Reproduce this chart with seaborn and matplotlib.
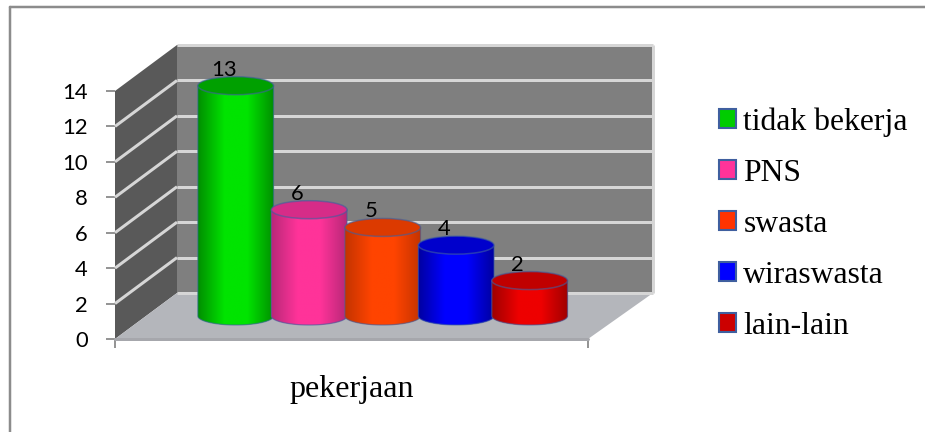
import numpy as np
import pandas as pd
import matplotlib
matplotlib.use("Agg")
import matplotlib.pyplot as plt
import seaborn as sns
from matplotlib.colors import LinearSegmentedColormap, to_rgba
from matplotlib.lines import Line2D
from matplotlib.patches import Ellipse, Polygon, Patch

# Respondents by occupation
categories = ["tidak bekerja", "PNS", "swasta", "wiraswasta", "lain-lain"]
values = [13, 6, 5, 4, 2]
y_ticks = [0, 2, 4, 6, 8, 10, 12, 14]
axis_title = "pekerjaan"

swatch_colors = ["#00CC00", "#FF3399", "#FF3300", "#0000FF", "#CC0000"]
body_light = ["#00E400", "#FF3399", "#FF4400", "#0000FF", "#EE0000"]
body_dark = ["#009000", "#B82878", "#C43400", "#0000A0", "#A00000"]
cap_colors = ["#00A000", "#D62C88", "#DC3A00", "#0000CC", "#C00000"]
edge_color = "#3F5F9F"

W, H = 925, 432
DPI = 100
PX_PT = 72 / DPI

SERIF = "Liberation Serif"
SANS = "Lato"

sns.set_theme(style="white")
fig = plt.figure(figsize=(W / DPI, H / DPI), dpi=DPI, facecolor="white")


def px_axes(left, top, right, bottom):
    return fig.add_axes([left / W, 1 - bottom / H, (right - left) / W, (bottom - top) / H])


# Front plane of the 3D box carries the value axis and the axis title
ax = px_axes(115, 91, 588, 339)
ax.set_xlim(0, 1)
ax.set_ylim(0, 14)
ax.patch.set_visible(False)
sns.despine(ax=ax, left=True, bottom=True, top=True, right=True)

# One unit of depth moves a point back along the box diagonal
px_per_value = 248 / 14
depth_x = 62 / 473
depth_y = 46 / px_per_value


def project(x, value, depth):
    return x + depth * depth_x, value + depth * depth_y


def face(points, color, z):
    ax.add_patch(Polygon([project(*p) for p in points], closed=True, facecolor=color,
                         edgecolor="none", clip_on=False, zorder=z))


back_right = 1 + 3 / 473
face([(0, 0, 1), (back_right, 0, 1), (back_right, 14, 1), (0, 14, 1)], "#7F7F7F", 1)
face([(0, 0, 0), (0, 0, 1), (0, 14, 1), (0, 14, 0)], "#595959", 1)
face([(0, 0, 0), (1, 0, 0), (back_right, 0, 1), (0, 0, 1)], "#B4B6BB", 1)

grid_kw = dict(color="#D6D6D6", lw=3 * PX_PT, clip_on=False, zorder=2, solid_capstyle="butt")
for tick in y_ticks:
    x0, y0 = project(0, tick, 0)
    x1, y1 = project(0, tick, 1)
    x2, y2 = project(back_right, tick, 1)
    if 0 < tick < 14:
        ax.plot([x0, x1], [y0, y1], **grid_kw)
    ax.plot([x1, x2], [y1, y2], **grid_kw)
x1, y1 = project(back_right, 0, 1)
x2, y2 = project(back_right, 14, 1)
ax.plot([x1, x2], [y1, y2], **grid_kw)
ax.plot([0, 1], [0, 0], color="#A6A7AC", lw=3 * PX_PT, clip_on=False, zorder=2)

ax.set_yticks(y_ticks)
ax.set_xticks([0, 1])
ax.set_xticklabels(["", ""])
ax.tick_params(axis="y", left=True, length=9 * PX_PT, width=1.2, color="#808080",
               pad=18 * PX_PT, labelsize=22 * PX_PT, labelcolor="black")
ax.tick_params(axis="x", bottom=True, length=9 * PX_PT, width=1.2, color="#808080", pad=0)
for label in ax.get_yticklabels():
    label.set_fontfamily(SANS)
ax.set_xlabel(axis_title, fontfamily=SERIF, fontsize=32 * PX_PT, color="black", labelpad=27 * PX_PT)

# Cylinders stand halfway into the box
ax_bars = px_axes(115 + 31, 91 - 23, 588 + 31, 339 - 23)
ax_bars.patch.set_visible(False)
frame = pd.DataFrame({"pekerjaan": categories, "jumlah": values})
sns.barplot(data=frame, x="pekerjaan", y="jumlah", hue="pekerjaan", order=categories,
            hue_order=categories, palette=swatch_colors, width=1.03, dodge=False,
            legend=False, ax=ax_bars, saturation=1)
ax_bars.set_xlim(-1.22, -1.22 + 473 / 73.5)
ax_bars.set_ylim(0, 14)
ax_bars.axis("off")

cap_h = 18 / px_per_value
outline_rgba = to_rgba(edge_color, 0.6)
theta = np.linspace(np.pi, 2 * np.pi, 60)
for i, bar in enumerate(ax_bars.patches):
    if bar.get_height() == 0:
        continue
    v = bar.get_height()
    c = bar.get_x() + bar.get_width() / 2
    w = bar.get_width()
    z = 3 + i
    bar.set_visible(False)
    outline = [(c - w / 2, v)] + [(c + w / 2 * np.cos(t), cap_h / 2 * np.sin(t)) for t in theta] + [(c + w / 2, v)]
    body = Polygon(outline, closed=True, facecolor=body_light[i], edgecolor="none",
                   clip_on=False, zorder=z)
    ax_bars.add_patch(body)
    shade = LinearSegmentedColormap.from_list(
        "shade", [body_dark[i], body_light[i], body_light[i], body_dark[i]])
    ramp = np.interp(np.linspace(0, 1, 200), [0, 0.42, 0.58, 1], [0, 0.4, 0.6, 1]).reshape(1, -1)
    img = ax_bars.imshow(ramp, cmap=shade, aspect="auto", vmin=0, vmax=1, zorder=z + 0.1,
                         extent=(c - w / 2, c + w / 2, -cap_h, v + cap_h), interpolation="bilinear")
    img.set_clip_box(fig.bbox)
    img.set_clip_path(body)
    ax_bars.add_patch(Polygon(outline, closed=True, facecolor="none", edgecolor=outline_rgba,
                              lw=0.9, clip_on=False, zorder=z + 0.15))
    ax_bars.add_patch(Ellipse((c, v), w, cap_h, facecolor=cap_colors[i], edgecolor=outline_rgba,
                              lw=1.1, clip_on=False, zorder=z + 0.2))
    ax_bars.annotate(str(values[i]), xy=(c, v), xytext=(-12, 16), textcoords="offset pixels",
                     ha="center", va="center", fontsize=22 * PX_PT, fontfamily=SANS,
                     color="black", zorder=20, annotation_clip=False)
ax_bars.set_xlim(-1.22, -1.22 + 473 / 73.5)
ax_bars.set_ylim(0, 14)

# Legend on the right of the box
handles = [Patch(facecolor=col, edgecolor=edge_color, lw=1.5, label=cat)
           for col, cat in zip(swatch_colors, categories)]
ax_bars.legend(handles=handles, loc="center left", bbox_to_anchor=(719 / W, 1 - 224 / H),
               bbox_transform=fig.transFigure, frameon=False,
               prop={"family": SERIF, "size": 31.6 * PX_PT}, labelspacing=0.7, borderpad=0,
               borderaxespad=0, handlelength=0.55, handleheight=0.55, handletextpad=0.22,
               labelcolor="black")

# Outer chart border, open to the right and below
border = dict(color="#8C8C8C", lw=2.5 * PX_PT, transform=fig.transFigure)
fig.add_artist(Line2D([10 / W, 10 / W], [0, 1 - 7 / H], **border))
fig.add_artist(Line2D([10 / W, 1], [1 - 7 / H, 1 - 7 / H], **border))

fig.savefig("out.png", dpi=DPI)
